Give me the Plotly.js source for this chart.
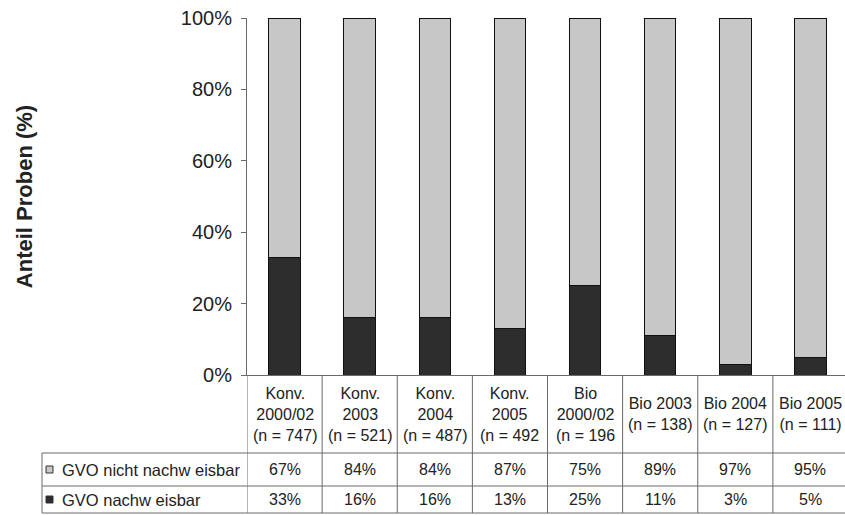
<!DOCTYPE html>
<html>
<head>
<meta charset="utf-8">
<script src="https://cdn.plot.ly/plotly-3.0.1.min.js"></script>
<style>html,body{margin:0;padding:0;background:#fff;}#chart{width:845px;height:515px;}</style>
</head>
<body>
<div id="chart"></div>
<script>
// ---- data ----
const categories = ['Konv. 2000/02', 'Konv. 2003', 'Konv. 2004', 'Konv. 2005', 'Bio 2000/02', 'Bio 2003', 'Bio 2004', 'Bio 2005'];
const categoryLabels = ['Konv.<br>2000/02<br>(n = 747)', 'Konv.<br>2003<br>(n = 521)', 'Konv.<br>2004<br>(n = 487)', 'Konv.<br>2005<br>(n = 492', 'Bio<br>2000/02<br>(n = 196', 'Bio 2003<br>(n = 138)', 'Bio 2004<br>(n = 127)', 'Bio 2005<br>(n = 111)'];
const nichtNachweisbar = [67, 84, 84, 87, 75, 89, 97, 95];
const nachweisbar = [33, 16, 16, 13, 25, 11, 3, 5];
const seriesNames = ['GVO nicht nachw eisbar', 'GVO nachw eisbar'];
const yTickVals = [0, 20, 40, 60, 80, 100];
const yTickText = ['0%', '20%', '40%', '60%', '80%', '100%'];

// ---- layout geometry ----
const W = 845, H = 515, L = 247, R = 0, T = 18, B = 140;
const plotW = W - L - R, plotH = H - T - B;
const px = v => (v - L) / plotW;          // pixel x -> paper x
const py = v => (H - B - v) / plotH;      // pixel y -> paper y

const lightCol = '#c7c7c7', darkCol = '#2d2d2d', lineCol = '#6a6a6a', textCol = '#222';
const fam = 'Liberation Sans, Arial, sans-serif';
const font = {family: fam, size: 16, color: textCol};

const traces = [
  {type: 'bar', name: seriesNames[1], x: categories, y: nachweisbar,
   marker: {color: darkCol, line: {color: '#111', width: 1}}, width: 0.42, hoverinfo: 'y'},
  {type: 'bar', name: seriesNames[0], x: categories, y: nichtNachweisbar,
   marker: {color: lightCol, line: {color: '#111', width: 1}}, width: 0.42, hoverinfo: 'y'}
];

const rowY = [py(453), py(486), py(513)];
const shapes = [];
// horizontal table lines
rowY.forEach(y => shapes.push({type: 'line', xref: 'paper', yref: 'paper', x0: px(42), x1: 1, y0: y, y1: y, line: {color: lineCol, width: 1}}));
// left border of label column
shapes.push({type: 'line', xref: 'paper', yref: 'paper', x0: px(42), x1: px(42), y0: rowY[0], y1: rowY[2], line: {color: lineCol, width: 1}});
// vertical lines at category boundaries
for (let k = 0; k <= categories.length; k++) {
  shapes.push({type: 'line', xref: 'x', yref: 'paper', x0: k - 0.5, x1: k - 0.5, y0: 0, y1: rowY[2], line: {color: lineCol, width: 1}});
}
// legend squares
const rowMid = [py((453 + 486) / 2), py((486 + 513) / 2)];
const sqH = 7 / plotH;
shapes.push({type: 'rect', xref: 'paper', yref: 'paper', x0: px(46), x1: px(53), y0: rowMid[0] - sqH / 2, y1: rowMid[0] + sqH / 2, fillcolor: lightCol, line: {color: '#333', width: 1}});
shapes.push({type: 'rect', xref: 'paper', yref: 'paper', x0: px(46), x1: px(53), y0: rowMid[1] - sqH / 2, y1: rowMid[1] + sqH / 2, fillcolor: darkCol, line: {color: '#333', width: 1}});

const annotations = [];
categories.forEach((c, i) => {
  annotations.push({xref: 'x', yref: 'paper', x: c, y: py(414), yanchor: 'middle', xanchor: 'center', showarrow: false, text: categoryLabels[i], font: font, align: 'center'});
  annotations.push({xref: 'x', yref: 'paper', x: c, y: rowMid[0], yanchor: 'middle', xanchor: 'center', showarrow: false, text: nichtNachweisbar[i] + '%', font: font});
  annotations.push({xref: 'x', yref: 'paper', x: c, y: rowMid[1], yanchor: 'middle', xanchor: 'center', showarrow: false, text: nachweisbar[i] + '%', font: font});
});
seriesNames.forEach((n, i) => {
  annotations.push({xref: 'paper', yref: 'paper', x: px(60), y: rowMid[i], xanchor: 'left', yanchor: 'middle', showarrow: false, text: n, font: Object.assign({}, font, {size: 16.5})});
});

const layout = {
  width: W, height: H,
  margin: {l: L, r: R, t: T, b: B, pad: 0},
  paper_bgcolor: '#fff', plot_bgcolor: '#fff',
  barmode: 'stack', showlegend: false,
  font: font,
  xaxis: {type: 'category', range: [-0.5, 7.46], showticklabels: false, ticks: '', showgrid: false, zeroline: false,
          showline: true, linecolor: lineCol, linewidth: 1, fixedrange: true},
  yaxis: {range: [0, 100], tickmode: 'array', tickvals: yTickVals, ticktext: yTickText, ticks: 'outside', ticklen: 5, tickcolor: lineCol,
          ticklabelstandoff: 5,
          showgrid: false, zeroline: false, showline: true, linecolor: lineCol, linewidth: 1,
          tickfont: {family: fam, size: 20, color: textCol},
          title: {text: 'Anteil Proben (%)', standoff: 142, font: {family: fam, size: 22, color: textCol, weight: 'bold'}},
          automargin: false, fixedrange: true},
  shapes: shapes,
  annotations: annotations
};

Plotly.newPlot('chart', traces, layout, {displayModeBar: false, staticPlot: true});
</script>
</body>
</html>
